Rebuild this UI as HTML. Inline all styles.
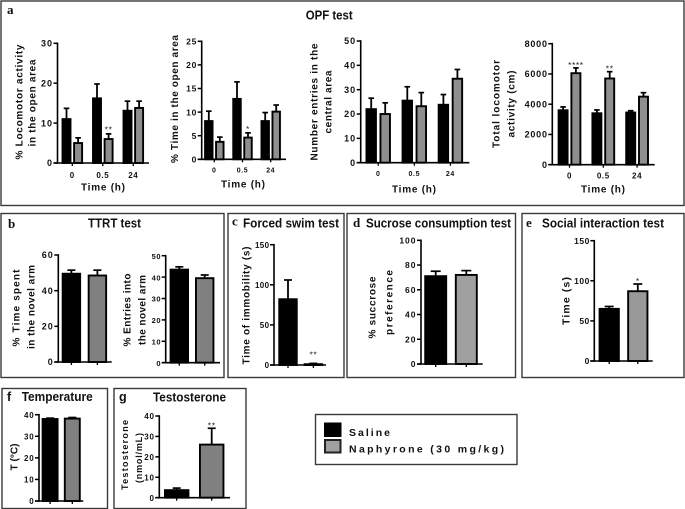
<!DOCTYPE html>
<html lang="en">
<head>
<meta charset="utf-8">
<title>Naphyrone behavioural test figure</title>
<style>
html,body{margin:0;padding:0;background:#fff;}
body{width:685px;height:509px;overflow:hidden;}
svg{display:block;filter:blur(.35px);}
text{font-family:"Liberation Sans",sans-serif;}
.tick{font-size:9px;font-weight:bold;fill:#111;}
.axt{font-size:10px;font-weight:bold;fill:#111;}
.ttl{font-size:12.5px;font-weight:bold;fill:#111;}
.let{font-family:"Liberation Serif",serif;font-size:13px;font-weight:bold;fill:#111;}
.star{font-size:8.5px;fill:#222;letter-spacing:.6px;}
</style>
</head>
<body>
<svg id="fig" width="685" height="509" viewBox="0 0 685 509" xmlns="http://www.w3.org/2000/svg"></svg>
<script>
// ---- data ----
const timeCats = ['0', '0.5', '24'];
const a1Saline = [11, 16.2, 13.1];
const a1SalineTop = [13.7, 19.8, 15.5];
const a1Naph = [5, 6, 13.8];
const a1NaphTop = [6.3, 7.3, 15.5];
const a1Ticks = [0, 10, 20, 30];
const a1Stars = ['', '**', ''];

const a2Saline = [8.1, 12.8, 8.1];
const a2SalineTop = [10.2, 16.4, 9.9];
const a2Naph = [3.7, 4.6, 10.1];
const a2NaphTop = [4.7, 5.6, 11.5];
const a2Ticks = [0, 5, 10, 15, 20, 25];
const a2Stars = ['', '*', ''];

const a3Saline = [22, 25.5, 23.8];
const a3SalineTop = [26.5, 31.2, 28];
const a3Naph = [20, 23.2, 34.5];
const a3NaphTop = [24.6, 28.8, 38.3];
const a3Ticks = [0, 10, 20, 30, 40, 50];
const a3Stars = ['', '', ''];

const a4Saline = [3600, 3400, 3450];
const a4SalineTop = [3820, 3620, 3570];
const a4Naph = [6050, 5700, 4500];
const a4NaphTop = [6400, 6150, 4760];
const a4Ticks = [0, 2000, 4000, 6000, 8000];
const a4Stars = ['****', '**', ''];

const b1Saline = [49.5];
const b1SalineTop = [51.5];
const b1Naph = [48.5];
const b1NaphTop = [51.5];
const b1Ticks = [0, 20, 40, 60];

const b2Saline = [43.5];
const b2SalineTop = [44.8];
const b2Naph = [39.5];
const b2NaphTop = [41];
const b2Ticks = [0, 10, 20, 30, 40, 50];

const cSaline = [82];
const cSalineTop = [106];
const cNaph = [1];
const cNaphTop = [2];
const cTicks = [0, 50, 100, 150];
const cStars = ['**'];

const dSaline = [71];
const dSalineTop = [75];
const dNaph = [72];
const dNaphTop = [75.5];
const dTicks = [0, 20, 40, 60, 80, 100];

const eSaline = [65];
const eSalineTop = [68];
const eNaph = [87];
const eNaphTop = [96];
const eTicks = [0, 50, 100, 150];
const eStars = ['*'];

const fSaline = [38];
const fSalineTop = [38.4];
const fNaph = [38.2];
const fNaphTop = [38.7];
const fTicks = [0, 10, 20, 30, 40];

const gSaline = [3.7];
const gSalineTop = [4.7];
const gNaph = [26];
const gNaphTop = [34];
const gTicks = [0, 10, 20, 30, 40];
const gStars = ['**'];

// ---- drawing ----
const NS = 'http://www.w3.org/2000/svg';
const fig = document.getElementById('fig');
function mk(tag, attrs, parent) {
  const el = document.createElementNS(NS, tag);
  for (const k in attrs) el.setAttribute(k, attrs[k]);
  (parent || fig).appendChild(el);
  return el;
}
function panel(name, x1, y1, x2, y2) {
  const el = mk('rect', {x: x1, y: y1, width: x2 - x1, height: y2 - y1, fill: '#fff', stroke: '#3a3a3a', 'stroke-width': 1.4});
  
  
}
function label(name, cls, str, x, y, len, opts) {
  const o = opts || {};
  const el = mk('text', {class: cls, x: x, y: y});
  if (o.anchor) el.setAttribute('text-anchor', o.anchor);
  if (len) {
    el.setAttribute('textLength', len);
    el.setAttribute('lengthAdjust', o.glyphs ? 'spacingAndGlyphs' : 'spacing');
  }
  if (o.size) el.style.fontSize = o.size + 'px';
  el.textContent = str;
  
  
  return el;
}
function yLabel(name, str, cx, cy, len, size) {
  const el = label(name, 'axt', str, cx, cy, len, {anchor: 'middle', size: size});
  el.setAttribute('transform', 'rotate(-90 ' + cx + ' ' + cy + ')');
  el.setAttribute('dominant-baseline', 'central');
}
function chart(c) {
  const g = mk('g', {});
  
  
  const maxV = c.ticks[c.ticks.length - 1];
  const yS = v => c.y0 - (v / maxV) * (c.y0 - c.yTop);
  const groupX = i => c.start + i * c.step;

  c.saline.forEach((v, i) => {
    const cx = groupX(i) - c.off;
    drawBar(g, c, 'saline-bar-' + i, cx, yS(v), yS(c.salineTop[i]), '#000');
  });
  c.naph.forEach((v, i) => {
    const cx = groupX(i) + c.off;
    drawBar(g, c, 'naphyrone-bar-' + i, cx, yS(v), yS(c.naphTop[i]), c.gray);
    if (c.stars && c.stars[i]) {
      const s = mk('text', {class: 'star', x: cx, y: yS(c.naphTop[i]) - (c.starGap === undefined ? 1 : c.starGap), 'text-anchor': 'middle'}, g);
      s.textContent = c.stars[i];
      
      
    }
  });

  const yAxis = mk('line', {x1: c.ax, x2: c.ax, y1: c.yTop - .8, y2: c.y0 + .8, stroke: '#000', 'stroke-width': 1.6}, g);
  
  
  const xAxis = mk('line', {x1: c.ax - 4, x2: c.xEnd, y1: c.y0, y2: c.y0, stroke: '#000', 'stroke-width': 1.6}, g);
  
  

  c.ticks.forEach(t => {
    const y = yS(t);
    mk('line', {x1: c.ax - 4, x2: c.ax, y1: y, y2: y, stroke: '#000', 'stroke-width': 1.5}, g);
    const el = mk('text', {class: 'tick', x: c.ax - 4.5, y: y + 3.2, 'text-anchor': 'end'}, g);
    el.style.letterSpacing = (c.tickSpace === undefined ? 1 : c.tickSpace) + 'px';
    if (c.tickSize) el.style.fontSize = c.tickSize + 'px';
    el.textContent = String(t);
    
    
  });

  const n = c.saline.length;
  if (c.cats) {
    c.cats.forEach((cat, i) => {
      const x = groupX(i);
      mk('line', {x1: x, x2: x, y1: c.y0, y2: c.y0 + 3, stroke: '#000', 'stroke-width': 1.3}, g);
      const el = mk('text', {class: 'tick', x: x, y: c.catY, 'text-anchor': 'middle'}, g);
      el.style.fontSize = (c.catSize || 7.5) + 'px';
      el.style.letterSpacing = '.6px';
      el.textContent = cat;
      
      
    });
  } else {
    for (let i = 0; i < n; i++) {
      mk('line', {x1: groupX(i) - c.off, x2: groupX(i) - c.off, y1: c.y0, y2: c.y0 + 3, stroke: '#000', 'stroke-width': 1.3}, g);
      mk('line', {x1: groupX(i) + c.off, x2: groupX(i) + c.off, y1: c.y0, y2: c.y0 + 3, stroke: '#000', 'stroke-width': 1.3}, g);
    }
  }
}
function drawBar(g, c, name, cx, yv, yt, fill) {
  const e = mk('line', {x1: cx, x2: cx, y1: yv, y2: yt, stroke: '#000', 'stroke-width': 1.8}, g);
  
  
  const capW = c.cap || 2.8;
  mk('line', {x1: cx - capW, x2: cx + capW, y1: yt, y2: yt, stroke: '#000', 'stroke-width': 1.7}, g);
  const r = mk('rect', {x: cx - c.barW / 2, y: yv, width: c.barW, height: Math.max(0, c.y0 - yv), fill: fill, stroke: '#000', 'stroke-width': 1.9}, g);
  
  
}

// panels
panel('panel-a', 1, 1, 684, 205.5);
panel('panel-b', 1, 213.5, 224, 377.5);
panel('panel-c', 228, 213.5, 344, 377.5);
panel('panel-d', 347, 213.5, 515.5, 377.5);
panel('panel-e', 522, 213.5, 684, 377.5);
panel('panel-f', 2, 388.5, 107.5, 508.5);
panel('panel-g', 114, 388.5, 246, 508.5);

// titles and letters
label('panel-letter-a', 'let', 'a', 7, 14);
label('panel-title-a', 'ttl', 'OPF test', 305.7, 19.5, 47, {glyphs: true});
label('panel-letter-b', 'let', 'b', 8, 228);
label('panel-title-b', 'ttl', 'TTRT test', 88, 227.5, 53, {glyphs: true});
label('panel-letter-c', 'let', 'c', 232, 225.5);
label('panel-title-c', 'ttl', 'Forced swim test', 243, 227.5, 96, {glyphs: true});
label('panel-letter-d', 'let', 'd', 353, 227);
label('panel-title-d', 'ttl', 'Sucrose consumption test', 366, 227.5, 145, {glyphs: true});
label('panel-letter-e', 'let', 'e', 526, 227);
label('panel-title-e', 'ttl', 'Social interaction test', 542, 227.5, 122, {glyphs: true});
label('panel-letter-f', 'ttl', 'f', 7, 401);
label('panel-title-f', 'ttl', 'Temperature', 21.7, 401, 71, {glyphs: true});
label('panel-letter-g', 'ttl', 'g', 119, 401);
label('panel-title-g', 'ttl', 'Testosterone', 153, 401.5, 73, {glyphs: true});

// charts
chart({name: 'chart-a-locomotor-open', cats: timeCats, saline: a1Saline, salineTop: a1SalineTop, naph: a1Naph, naphTop: a1NaphTop, ticks: a1Ticks, stars: a1Stars, starGap: 1.5,
  ax: 57.5, y0: 163, yTop: 43.3, xEnd: 149, start: 72.3, step: 30.5, off: 5.8, barW: 8, gray: '#8f8f8f', catY: 178, catSize: 8});
chart({name: 'chart-a-time-open', cats: timeCats, saline: a2Saline, salineTop: a2SalineTop, naph: a2Naph, naphTop: a2NaphTop, ticks: a2Ticks, stars: a2Stars,
  ax: 201.7, y0: 159.3, yTop: 41.3, xEnd: 286, start: 214.3, step: 28.2, off: 5.5, barW: 7.5, gray: '#8f8f8f', catY: 172.5, catSize: 7, tickSpace: .8, tickSize: 8.5});
chart({name: 'chart-a-entries-central', cats: timeCats, saline: a3Saline, salineTop: a3SalineTop, naph: a3Naph, naphTop: a3NaphTop, ticks: a3Ticks, stars: a3Stars,
  ax: 360.7, y0: 162.7, yTop: 41, xEnd: 469.3, start: 378.2, step: 36.1, off: 7, barW: 9.5, gray: '#8f8f8f', catY: 176, catSize: 7});
chart({name: 'chart-a-total-locomotor', cats: timeCats, saline: a4Saline, salineTop: a4SalineTop, naph: a4Naph, naphTop: a4NaphTop, ticks: a4Ticks, stars: a4Stars, starGap: 0,
  ax: 552.3, y0: 164.7, yTop: 43.7, xEnd: 654.7, start: 569.5, step: 33.8, off: 6.4, barW: 9, gray: '#8f8f8f', catY: 178.5, catSize: 8, tickSpace: .8});
chart({name: 'chart-b-time-novel-arm', saline: b1Saline, salineTop: b1SalineTop, naph: b1Naph, naphTop: b1NaphTop, ticks: b1Ticks,
  ax: 58.3, y0: 362, yTop: 255, xEnd: 111.7, start: 84.4, step: 0, off: 13, barW: 17.5, gray: '#808080', cap: 4});
chart({name: 'chart-b-entries-novel-arm', saline: b2Saline, salineTop: b2SalineTop, naph: b2Naph, naphTop: b2NaphTop, ticks: b2Ticks,
  ax: 165.7, y0: 362.7, yTop: 255.7, xEnd: 220, start: 192, step: 0, off: 12.7, barW: 17.5, gray: '#808080', cap: 4, tickSpace: .6, tickSize: 7.5});
chart({name: 'chart-c-immobility', saline: cSaline, salineTop: cSalineTop, naph: cNaph, naphTop: cNaphTop, ticks: cTicks, stars: cStars, starGap: 5.7,
  ax: 274, y0: 365, yTop: 244.7, xEnd: 326, start: 300.7, step: 0, off: 12.7, barW: 17.5, gray: '#808080', cap: 4, tickSpace: .4, tickSize: 8});
chart({name: 'chart-d-sucrose', saline: dSaline, salineTop: dSalineTop, naph: dNaph, naphTop: dNaphTop, ticks: dTicks,
  ax: 421, y0: 364, yTop: 240.3, xEnd: 482.7, start: 451, step: 0, off: 15.3, barW: 21, gray: '#a0a0a0', cap: 5, tickSize: 8.5});
chart({name: 'chart-e-social', saline: eSaline, salineTop: eSalineTop, naph: eNaph, naphTop: eNaphTop, ticks: eTicks, stars: eStars, starGap: 0,
  ax: 594.3, y0: 361, yTop: 240.7, xEnd: 652.7, start: 623.5, step: 0, off: 14.3, barW: 19.3, gray: '#999999', cap: 4.5, tickSpace: .5, tickSize: 8.5});
chart({name: 'chart-f-temperature', saline: fSaline, salineTop: fSalineTop, naph: fNaph, naphTop: fNaphTop, ticks: fTicks,
  ax: 39, y0: 501, yTop: 414.7, xEnd: 83.3, start: 61.2, step: 0, off: 11.1, barW: 15, gray: '#808080', cap: 4, tickSpace: .8, tickSize: 8});
chart({name: 'chart-g-testosterone', saline: gSaline, salineTop: gSalineTop, naph: gNaph, naphTop: gNaphTop, ticks: gTicks, stars: gStars, starGap: 0,
  ax: 159.3, y0: 497.7, yTop: 416, xEnd: 230, start: 194.2, step: 0, off: 17.5, barW: 23.5, gray: '#808080', cap: 4, tickSpace: .8, tickSize: 8});

// axis titles
yLabel('y-axis-title', '% Locomotor activity', 20, 102, 115);
yLabel('y-axis-title', 'in the open area', 33, 103, 87);
yLabel('y-axis-title', '% Time in the open area', 175.7, 99, 128);
yLabel('y-axis-title', 'Number entries in the', 315, 102, 117);
yLabel('y-axis-title', 'central area', 329, 102, 63);
yLabel('y-axis-title', 'Total locomotor', 497, 104, 88);
yLabel('y-axis-title', 'activity (cm)', 512, 104, 67);
yLabel('y-axis-title', '% Time spent', 17, 308, 77);
yLabel('y-axis-title', 'in the novel arm', 32, 307, 84);
yLabel('y-axis-title', '% Entries into', 128, 310, 73);
yLabel('y-axis-title', 'the novel arm', 143, 310, 70);
yLabel('y-axis-title', 'Time of immobility (s)', 247, 305.5, 118);
yLabel('y-axis-title', '% succrose', 373, 307.5, 62);
yLabel('y-axis-title', 'preference', 390, 302.5, 65);
yLabel('y-axis-title', 'Time (s)', 566.7, 301, 48, 10.5);
yLabel('y-axis-title', 'T (°C)', 15, 457, 27);
yLabel('y-axis-title', 'Testosterone', 125, 455, 70, 9);
yLabel('y-axis-title', '(nmol/mL)', 139, 458, 50, 9);
label('x-axis-title', 'axt', 'Time (h)', 103, 190.5, 44, {anchor: 'middle'});
label('x-axis-title', 'axt', 'Time (h)', 243, 187.5, 44, {anchor: 'middle'});
label('x-axis-title', 'axt', 'Time (h)', 414, 192.5, 44, {anchor: 'middle'});
label('x-axis-title', 'axt', 'Time (h)', 603, 192.5, 44, {anchor: 'middle'});

// legend
panel('legend-box', 315.5, 414.5, 517, 464.5);
const sw1 = mk('rect', {x: 324.5, y: 423, width: 16.5, height: 13.5, fill: '#000', stroke: '#000', 'stroke-width': 1});


const sw2 = mk('rect', {x: 325, y: 440, width: 15.5, height: 12.5, fill: '#a0a0a0', stroke: '#222', 'stroke-width': 2});


label('legend-label-saline', 'axt', 'Saline', 349, 436, 41, {size: 10.5});
label('legend-label-naphyrone', 'axt', 'Naphyrone (30 mg/kg)', 349, 452.5, 155, {size: 10.5});
</script>
</body>
</html>
